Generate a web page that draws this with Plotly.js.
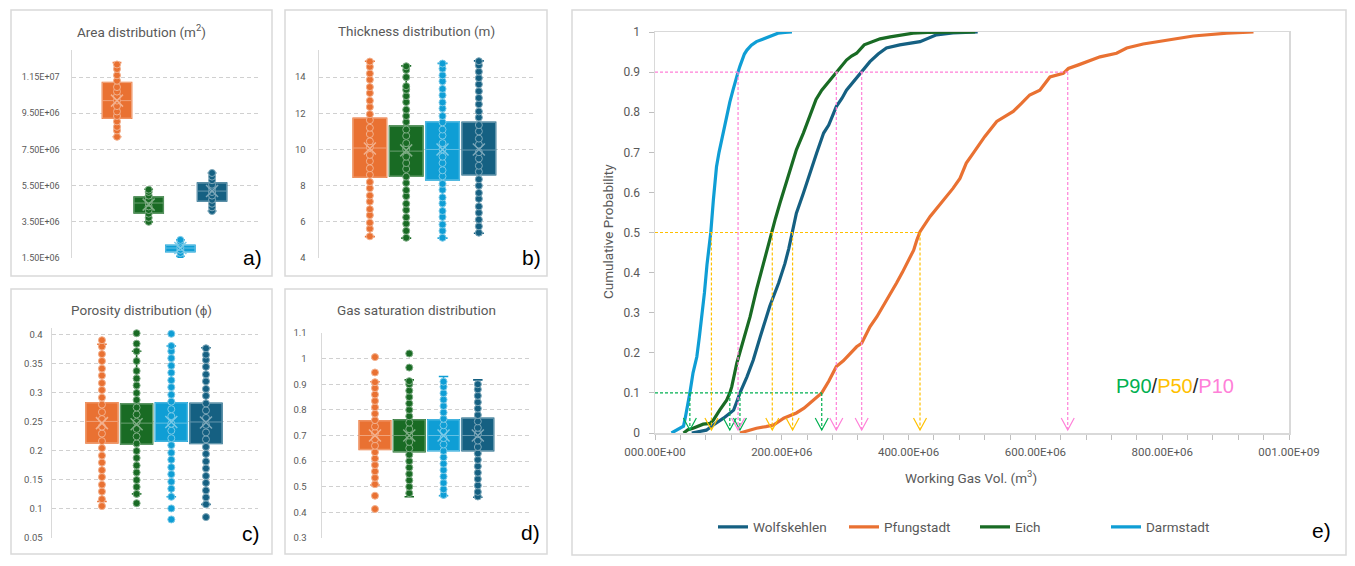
<!DOCTYPE html>
<html><head><meta charset="utf-8">
<script src="https://cdn.plot.ly/plotly-3.0.1.min.js"></script>
<style>html,body{margin:0;padding:0;background:#fff;}#chart{width:1355px;height:566px;}</style>
</head><body><div id="chart"></div>
<script>
// ================= DATA =================
const boxSites = ['Pfungstadt', 'Eich', 'Darmstadt', 'Wolfskehlen'];
const siteColors = { Wolfskehlen: '#156082', Pfungstadt: '#E97132', Eich: '#196B24', Darmstadt: '#0F9ED5' };

// a) Area (values in 1e6 m2)
const areaQ1 = [9.23, 3.99, 1.85, 4.65];
const areaMedian = [10.2, 4.54, 2.05, 5.2];
const areaQ3 = [11.2, 4.87, 2.2, 5.64];
const areaLow = [8.2, 3.5, 1.6, 4.1];
const areaHigh = [12.3, 5.3, 2.5, 6.2];
const areaMean = [10.2, 4.45, 2.05, 5.2];
const areaPfungstadt = [8.2, 8.55, 8.75, 9.05, 9.35, 9.6, 9.9, 10.2, 10.45, 10.7, 10.95, 11.3, 11.6, 11.95, 12.2];
const areaEich = [3.5, 3.72, 3.95, 4.15, 4.35, 4.55, 4.75, 4.95, 5.15, 5.28];
const areaDarmstadt = [1.6, 1.78, 1.95, 2.1, 2.25, 2.4, 2.5];
const areaWolfskehlen = [4.1, 4.3, 4.5, 4.72, 4.95, 5.15, 5.35, 5.55, 5.8, 6.0, 6.2];
const areaTickVals = [1.5, 3.5, 5.5, 7.5, 9.5, 11.5];
const areaTickText = ['1.50E+06', '3.50E+06', '5.50E+06', '7.50E+06', '9.50E+06', '1.15E+07'];

// b) Thickness (m)
const thickQ1 = [8.47, 8.53, 8.32, 8.6];
const thickMedian = [10.08, 9.91, 10.0, 9.97];
const thickQ3 = [11.73, 11.29, 11.52, 11.5];
const thickLow = [5.18, 5.1, 5.1, 5.37];
const thickHigh = [14.88, 14.62, 14.76, 14.9];
const thickMean = [10.05, 9.95, 10.0, 10.0];
const thickPfungstadt = [5.2, 5.62, 5.95, 6.37, 6.7, 7.12, 7.45, 7.86, 8.2, 8.6, 8.96, 9.35, 9.7, 10.12, 10.45, 10.85, 11.2, 11.62, 11.95, 12.35, 12.7, 13.12, 13.45, 13.86, 14.2, 14.57, 14.86];
const thickEich = [5.12, 5.5, 5.9, 6.25, 6.65, 7.0, 7.42, 7.75, 8.15, 8.5, 8.92, 9.25, 9.6, 10.02, 10.35, 10.75, 11.1, 11.52, 11.85, 12.2, 12.62, 12.95, 13.3, 13.5, 14.0, 14.4, 14.6];
const thickDarmstadt = [5.12, 5.5, 5.85, 6.27, 6.6, 7.02, 7.35, 7.77, 8.1, 8.52, 8.85, 9.25, 9.6, 10.02, 10.35, 10.77, 11.1, 11.5, 11.85, 12.27, 12.6, 13.0, 13.35, 13.77, 14.1, 14.47, 14.75];
const thickWolfskehlen = [5.4, 5.75, 6.12, 6.5, 6.85, 7.27, 7.6, 8.0, 8.35, 8.77, 9.1, 9.5, 9.85, 10.27, 10.6, 11.0, 11.35, 11.77, 12.1, 12.5, 12.85, 13.22, 13.6, 13.95, 14.3, 14.65, 14.88];
const thickTickVals = [4, 6, 8, 10, 12, 14];
const thickTickText = ['4', '6', '8', '10', '12', '14'];

// c) Porosity
const poroQ1 = [0.214, 0.212, 0.217, 0.213];
const poroMedian = [0.251, 0.248, 0.248, 0.25];
const poroQ3 = [0.283, 0.281, 0.283, 0.282];
const poroLow = [0.113, 0.126, 0.121, 0.108];
const poroHigh = [0.384, 0.372, 0.381, 0.378];
const poroMean = [0.248, 0.246, 0.25, 0.249];
const poroPfungstadt = [0.105, 0.117, 0.13, 0.142, 0.155, 0.167, 0.18, 0.192, 0.205, 0.217, 0.23, 0.242, 0.255, 0.267, 0.28, 0.292, 0.305, 0.317, 0.33, 0.342, 0.355, 0.367, 0.38, 0.391];
const poroEich = [0.11, 0.126, 0.138, 0.15, 0.163, 0.175, 0.188, 0.2, 0.213, 0.225, 0.238, 0.25, 0.263, 0.275, 0.288, 0.3, 0.313, 0.325, 0.338, 0.355, 0.372, 0.385, 0.403];
const poroDarmstadt = [0.082, 0.101, 0.121, 0.135, 0.147, 0.16, 0.172, 0.185, 0.197, 0.21, 0.222, 0.235, 0.247, 0.26, 0.272, 0.285, 0.297, 0.31, 0.322, 0.335, 0.347, 0.36, 0.372, 0.381, 0.402];
const poroWolfskehlen = [0.086, 0.108, 0.12, 0.132, 0.145, 0.157, 0.17, 0.182, 0.195, 0.207, 0.22, 0.232, 0.245, 0.257, 0.27, 0.282, 0.295, 0.307, 0.32, 0.332, 0.345, 0.357, 0.366, 0.377];
const poroTickVals = [0.05, 0.1, 0.15, 0.2, 0.25, 0.3, 0.35, 0.4];
const poroTickText = ['0.05', '0.1', '0.15', '0.2', '0.25', '0.3', '0.35', '0.4'];

// d) Gas saturation
const satQ1 = [0.646, 0.637, 0.641, 0.641];
const satMedian = [0.70, 0.70, 0.70, 0.70];
const satQ3 = [0.757, 0.761, 0.761, 0.767];
const satLow = [0.507, 0.461, 0.465, 0.459];
const satHigh = [0.91, 0.917, 0.93, 0.917];
const satMean = [0.70, 0.70, 0.70, 0.70];
const satPfungstadt = [0.413, 0.465, 0.51, 0.535, 0.56, 0.585, 0.61, 0.635, 0.66, 0.685, 0.71, 0.735, 0.76, 0.785, 0.81, 0.835, 0.86, 0.885, 0.908, 0.946, 1.006];
const satEich = [0.475, 0.5, 0.525, 0.55, 0.575, 0.6, 0.625, 0.65, 0.675, 0.7, 0.725, 0.75, 0.775, 0.8, 0.825, 0.85, 0.875, 0.9, 0.912, 0.965, 1.02];
const satDarmstadt = [0.468, 0.49, 0.515, 0.54, 0.565, 0.59, 0.615, 0.64, 0.665, 0.69, 0.715, 0.74, 0.765, 0.79, 0.815, 0.84, 0.865, 0.89, 0.91];
const satWolfskehlen = [0.462, 0.48, 0.505, 0.53, 0.555, 0.58, 0.605, 0.63, 0.655, 0.68, 0.705, 0.73, 0.755, 0.78, 0.805, 0.83, 0.855, 0.88, 0.9];
const satTickVals = [0.3, 0.4, 0.5, 0.6, 0.7, 0.8, 0.9, 1.0, 1.1];
const satTickText = ['0.3', '0.4', '0.5', '0.6', '0.7', '0.8', '0.9', '1', '1.1'];

// e) Cumulative probability of working gas volume (volumes in 1e6 m3)
const cdfSites = ['Wolfskehlen', 'Pfungstadt', 'Eich', 'Darmstadt'];
const wolfskehlenVolM = [58, 70, 81, 92, 100, 108, 116, 124, 129, 134, 145, 155, 166, 174, 181, 195, 205, 211, 217, 223, 234, 244, 255, 266, 274, 286, 295, 302, 314, 326, 339, 352, 365, 386, 405, 418, 444, 470, 509];
const wolfskehlenProb = [0, 0.003, 0.007, 0.02, 0.028, 0.037, 0.047, 0.057, 0.078, 0.1, 0.14, 0.182, 0.24, 0.28, 0.316, 0.374, 0.423, 0.46, 0.5, 0.548, 0.598, 0.648, 0.698, 0.748, 0.768, 0.814, 0.835, 0.855, 0.878, 0.9, 0.926, 0.945, 0.96, 0.968, 0.972, 0.976, 0.993, 0.998, 1];
const pfungstadtVolM = [134, 148, 160, 175, 187, 203, 213, 223, 235, 244, 255, 263, 274, 286, 297, 308, 318, 326, 339, 350, 360, 371, 381, 390, 397, 408, 413, 418, 434, 455, 470, 481, 491, 502, 520, 539, 552, 565, 578, 591, 607, 623, 644, 652, 668, 681, 702, 728, 744, 770, 807, 849, 902, 944];
const pfungstadtProb = [0, 0.006, 0.012, 0.016, 0.02, 0.037, 0.044, 0.05, 0.062, 0.074, 0.088, 0.1, 0.129, 0.166, 0.18, 0.199, 0.215, 0.224, 0.265, 0.29, 0.316, 0.345, 0.374, 0.4, 0.423, 0.456, 0.481, 0.502, 0.54, 0.58, 0.61, 0.635, 0.673, 0.698, 0.739, 0.777, 0.79, 0.802, 0.822, 0.843, 0.855, 0.888, 0.897, 0.909, 0.918, 0.926, 0.938, 0.947, 0.96, 0.97, 0.98, 0.99, 0.997, 1];
const eichVolM = [45, 52, 60, 76, 87, 92, 102, 113, 118, 121, 129, 139, 150, 160, 171, 178, 183, 190, 197, 210, 217, 223, 234, 244, 254, 263, 276, 286, 294, 302, 310, 318, 330, 342, 355, 371, 390, 407, 430, 470, 505];
const eichProb = [0, 0.008, 0.012, 0.022, 0.024, 0.032, 0.057, 0.082, 0.1, 0.115, 0.174, 0.232, 0.29, 0.357, 0.423, 0.47, 0.5, 0.535, 0.573, 0.64, 0.675, 0.706, 0.748, 0.79, 0.832, 0.855, 0.88, 0.9, 0.915, 0.93, 0.94, 0.947, 0.968, 0.976, 0.983, 0.988, 0.993, 0.997, 0.999, 1, 1];
const darmstadtVolM = [26, 36, 45, 48, 52, 55, 60, 66, 70, 74, 78, 82, 88, 92, 97, 101, 105, 109, 113, 118, 123, 127, 131, 134, 137, 141, 145, 152, 160, 170, 181, 188, 194, 205, 216];
const darmstadtProb = [0, 0.01, 0.017, 0.04, 0.07, 0.1, 0.15, 0.19, 0.24, 0.29, 0.35, 0.42, 0.5, 0.58, 0.664, 0.70, 0.731, 0.76, 0.79, 0.825, 0.855, 0.88, 0.9, 0.915, 0.93, 0.945, 0.955, 0.967, 0.976, 0.982, 0.988, 0.993, 0.997, 0.999, 1];

// P90 / P50 / P10 volumes (1e6 m3), read at probability 0.1 / 0.5 / 0.9
const pSites = ['Darmstadt', 'Eich', 'Wolfskehlen', 'Pfungstadt'];
const p90VolM = [55, 118, 134, 263];
const p50VolM = [89, 185, 217, 418];
const p10VolM = [131, 286, 326, 651];

const volTickVals = [0, 200, 400, 600, 800, 1000];
const volTickText = ['000.00E+00', '200.00E+06', '400.00E+06', '600.00E+06', '800.00E+06', '001.00E+09'];
const probTickVals = [0, 0.1, 0.2, 0.3, 0.4, 0.5, 0.6, 0.7, 0.8, 0.9, 1];
const probTickText = ['0', '0.1', '0.2', '0.3', '0.4', '0.5', '0.6', '0.7', '0.8', '0.9', '1'];

// ================= BUILD =================
const W = 1355, H = 566;
const px = v => v / W;
const py = v => 1 - v / H;
const FONT = 'Roboto, "Open Sans", sans-serif';
const GREY = '#595959';
const FRAME = '#d9d9d9';

function tint(hex, f) {
  const n = parseInt(hex.slice(1), 16);
  const r = (n >> 16) & 255, g = (n >> 8) & 255, b = n & 255;
  const m = c => Math.round(c + (255 - c) * f);
  return 'rgb(' + m(r) + ',' + m(g) + ',' + m(b) + ')';
}

const traces = [];
const panels = [
  { id: '', q1: areaQ1, med: areaMedian, q3: areaQ3, lo: areaLow, hi: areaHigh, mean: areaMean,
    pts: [areaPfungstadt, areaEich, areaDarmstadt, areaWolfskehlen] },
  { id: '2', q1: thickQ1, med: thickMedian, q3: thickQ3, lo: thickLow, hi: thickHigh, mean: thickMean,
    pts: [thickPfungstadt, thickEich, thickDarmstadt, thickWolfskehlen] },
  { id: '3', q1: poroQ1, med: poroMedian, q3: poroQ3, lo: poroLow, hi: poroHigh, mean: poroMean,
    pts: [poroPfungstadt, poroEich, poroDarmstadt, poroWolfskehlen] },
  { id: '4', q1: satQ1, med: satMedian, q3: satQ3, lo: satLow, hi: satHigh, mean: satMean,
    pts: [satPfungstadt, satEich, satDarmstadt, satWolfskehlen] }
];

panels.forEach(p => {
  boxSites.forEach((site, i) => {
    const pos = i + 1;
    const col = siteColors[site];
    const ax = { xaxis: 'x' + p.id, yaxis: 'y' + p.id, showlegend: false, hoverinfo: 'skip' };
    traces.push(Object.assign({
      type: 'box', x: [pos], q1: [p.q1[i]], median: [p.med[i]], q3: [p.q3[i]],
      lowerfence: [p.lo[i]], upperfence: [p.hi[i]], width: 0.92, whiskerwidth: 0.3,
      fillcolor: col, line: { color: col, width: 1.6 }, boxpoints: false
    }, ax));
    traces.push(Object.assign({
      type: 'box', x: [pos], q1: [p.q1[i]], median: [p.med[i]], q3: [p.q3[i]],
      lowerfence: [p.q1[i]], upperfence: [p.q3[i]], width: 0.92, whiskerwidth: 0,
      fillcolor: col, line: { color: tint(col, 0.35), width: 1 }, boxpoints: false
    }, ax));
    traces.push(Object.assign({
      type: 'scatter', mode: 'markers', x: p.pts[i].map(() => pos), y: p.pts[i],
      marker: { size: 7, color: col, line: { color: tint(col, 0.45), width: 1 } }
    }, ax));
    traces.push(Object.assign({
      type: 'scatter', mode: 'markers', x: [pos], y: [p.mean[i]],
      marker: { symbol: 'x-thin', size: 12, color: tint(col, 0.45), line: { color: tint(col, 0.45), width: 1.5 } }
    }, ax));
  });
});

const cdfData = {
  Wolfskehlen: [wolfskehlenVolM, wolfskehlenProb],
  Pfungstadt: [pfungstadtVolM, pfungstadtProb],
  Eich: [eichVolM, eichProb],
  Darmstadt: [darmstadtVolM, darmstadtProb]
};
cdfSites.forEach(site => {
  traces.push({
    type: 'scatter', mode: 'lines', name: site,
    x: cdfData[site][0].map(v => v * 1e6), y: cdfData[site][1],
    line: { color: siteColors[site], width: 3.2 },
    xaxis: 'x5', yaxis: 'y5', hoverinfo: 'skip'
  });
});

const shapes = [];
const pDefs = [
  { vols: p90VolM, level: 0.1, color: '#00b050' },
  { vols: p50VolM, level: 0.5, color: '#ffc000' },
  { vols: p10VolM, level: 0.9, color: '#ff80d8' }
];
pDefs.forEach(d => {
  const maxV = Math.max.apply(null, d.vols);
  shapes.push({ type: 'line', xref: 'x5', yref: 'y5', x0: 0, x1: maxV * 1e6, y0: d.level, y1: d.level,
    line: { color: d.color, width: 1.2, dash: '3px,2px' } });
  d.vols.forEach(v => {
    shapes.push({ type: 'line', xref: 'x5', yref: 'y5', x0: v * 1e6, x1: v * 1e6, y0: d.level, y1: 0.008,
      line: { color: d.color, width: 1.2, dash: '3px,2px' } });
    shapes.push({ type: 'path', xref: 'x5', yref: 'y5', xsizemode: 'pixel', ysizemode: 'pixel',
      xanchor: v * 1e6, yanchor: 0, path: 'M-6.5,15 L0,3 L6.5,15',
      line: { color: d.color, width: 1.2 } });
  });
});

const frames = [[11, 272, 10, 276], [285, 547, 10, 276], [11, 272, 289, 554], [285, 547, 289, 554], [572, 1346, 10, 555]];
frames.forEach(f => {
  shapes.push({ type: 'rect', xref: 'paper', yref: 'paper', x0: px(f[0]), x1: px(f[1]), y0: py(f[3]), y1: py(f[2]),
    line: { color: FRAME, width: 1.5 }, fillcolor: 'rgba(0,0,0,0)', layer: 'below' });
});

function boxY(domain, range, tv, tt, fs, standoff) {
  return { domain: domain, range: range, tickmode: 'array', tickvals: tv, ticktext: tt,
    showline: true, linecolor: FRAME, linewidth: 1.5, showgrid: true, gridcolor: '#d0d0d0', griddash: '4px,3px',
    gridwidth: 1, zeroline: false, ticks: '', ticklabelstandoff: standoff,
    tickfont: { family: FONT, size: fs, color: GREY }, fixedrange: true };
}
function boxX(domain, range, anchor) {
  return { domain: domain, range: range, anchor: anchor, showgrid: false, zeroline: false,
    showticklabels: false, showline: false, ticks: '', fixedrange: true };
}

const annotations = [];
function ann(text, x, y, size, color, extra) {
  annotations.push(Object.assign({ text: text, xref: 'paper', yref: 'paper', x: px(x), y: py(y),
    xanchor: 'center', yanchor: 'middle', showarrow: false,
    font: { family: FONT, size: size, color: color } }, extra || {}));
}
ann('Area distribution (m<sup>2</sup>)', 141, 31, 13.5, GREY);
ann('Thickness distribution (m)', 416, 31, 13.5, GREY);
ann('Porosity distribution (ϕ)', 141, 310, 13.5, GREY);
ann('Gas saturation distribution', 416, 310, 13.5, GREY);
const LBL = { family: '"Liberation Sans", Arial, sans-serif', size: 21, color: '#000' };
[['a)', 252, 257], ['b)', 531, 257], ['c)', 251, 533], ['d)', 530, 532], ['e)', 1321, 530]].forEach(l => {
  annotations.push({ text: l[0], xref: 'paper', yref: 'paper', x: px(l[1]), y: py(l[2]), xanchor: 'center', yanchor: 'middle',
    showarrow: false, font: LBL });
});
ann('Cumulative Probability', 608, 232, 13.5, GREY, { textangle: -90 });
ann('Working Gas Vol. (m<sup>3</sup>)', 971, 477, 13.5, GREY);
ann('<span style="color:#00b050">P90</span><span style="color:#262626">/</span><span style="color:#ffc000">P50</span><span style="color:#262626">/</span><span style="color:#ff80d8">P10</span>',
  1175, 386, 20, '#262626', { font: { family: '"Liberation Sans", Arial, sans-serif', size: 20, color: '#262626' } });

const layout = {
  width: W, height: H, margin: { l: 0, r: 0, t: 0, b: 0 },
  paper_bgcolor: '#fff', plot_bgcolor: 'rgba(0,0,0,0)',
  boxmode: 'overlay', showlegend: true,
  xaxis: boxX([px(72), px(258)], [-0.42, 5.45], 'y'),
  yaxis: boxY([py(258), py(50)], [1.5, 13.0], areaTickVals, areaTickText, 9, 9),
  xaxis2: boxX([px(319), px(533)], [-0.40, 5.49], 'y2'),
  yaxis2: Object.assign(boxY([py(258), py(50)], [4, 15.5], thickTickVals, thickTickText, 9.5, 10), { anchor: 'x2' }),
  xaxis3: boxX([px(52), px(258)], [-0.44, 5.5], 'y3'),
  yaxis3: Object.assign(boxY([py(538), py(328)], [0.05, 0.412], poroTickVals, poroTickText, 9.5, 6), { anchor: 'x3' }),
  xaxis4: boxX([px(322), px(532)], [-0.545, 5.58], 'y4'),
  yaxis4: Object.assign(boxY([py(538), py(333)], [0.3, 1.1], satTickVals, satTickText, 9.5, 12), { anchor: 'x4' }),
  xaxis5: { domain: [px(655), px(1289)], range: [0, 1e9], anchor: 'y5', tickmode: 'array',
    tickvals: volTickVals.map(v => v * 1e6), ticktext: volTickText,
    ticks: 'outside', ticklen: 5, tickcolor: '#bfbfbf', ticklabelstandoff: 3,
    minor: { tickmode: 'linear', tick0: 0, dtick: 4e7, ticks: 'outside', ticklen: 5, tickcolor: '#bfbfbf', showgrid: false },
    showline: true, mirror: true, linecolor: FRAME, linewidth: 1.5, showgrid: false, zeroline: false,
    tickfont: { family: FONT, size: 11.5, color: GREY }, fixedrange: true },
  yaxis5: { domain: [py(433), py(32)], range: [0, 1], anchor: 'x5', tickmode: 'array',
    tickvals: probTickVals, ticktext: probTickText,
    ticks: 'outside', ticklen: 5, tickcolor: '#bfbfbf', ticklabelstandoff: 6,
    showline: true, mirror: true, linecolor: FRAME, linewidth: 1.5, showgrid: false, zeroline: false,
    tickfont: { family: FONT, size: 12, color: GREY }, fixedrange: true },
  legend: { orientation: 'h', x: px(713), xanchor: 'left', y: py(527), yanchor: 'middle',
    entrywidth: 86, entrywidthmode: 'pixels',
    font: { family: FONT, size: 13.5, color: GREY }, traceorder: 'normal', bgcolor: 'rgba(0,0,0,0)' },
  shapes: shapes,
  annotations: annotations
};

Plotly.newPlot('chart', traces, layout, { displayModeBar: false, staticPlot: true });
</script>
</body></html>
